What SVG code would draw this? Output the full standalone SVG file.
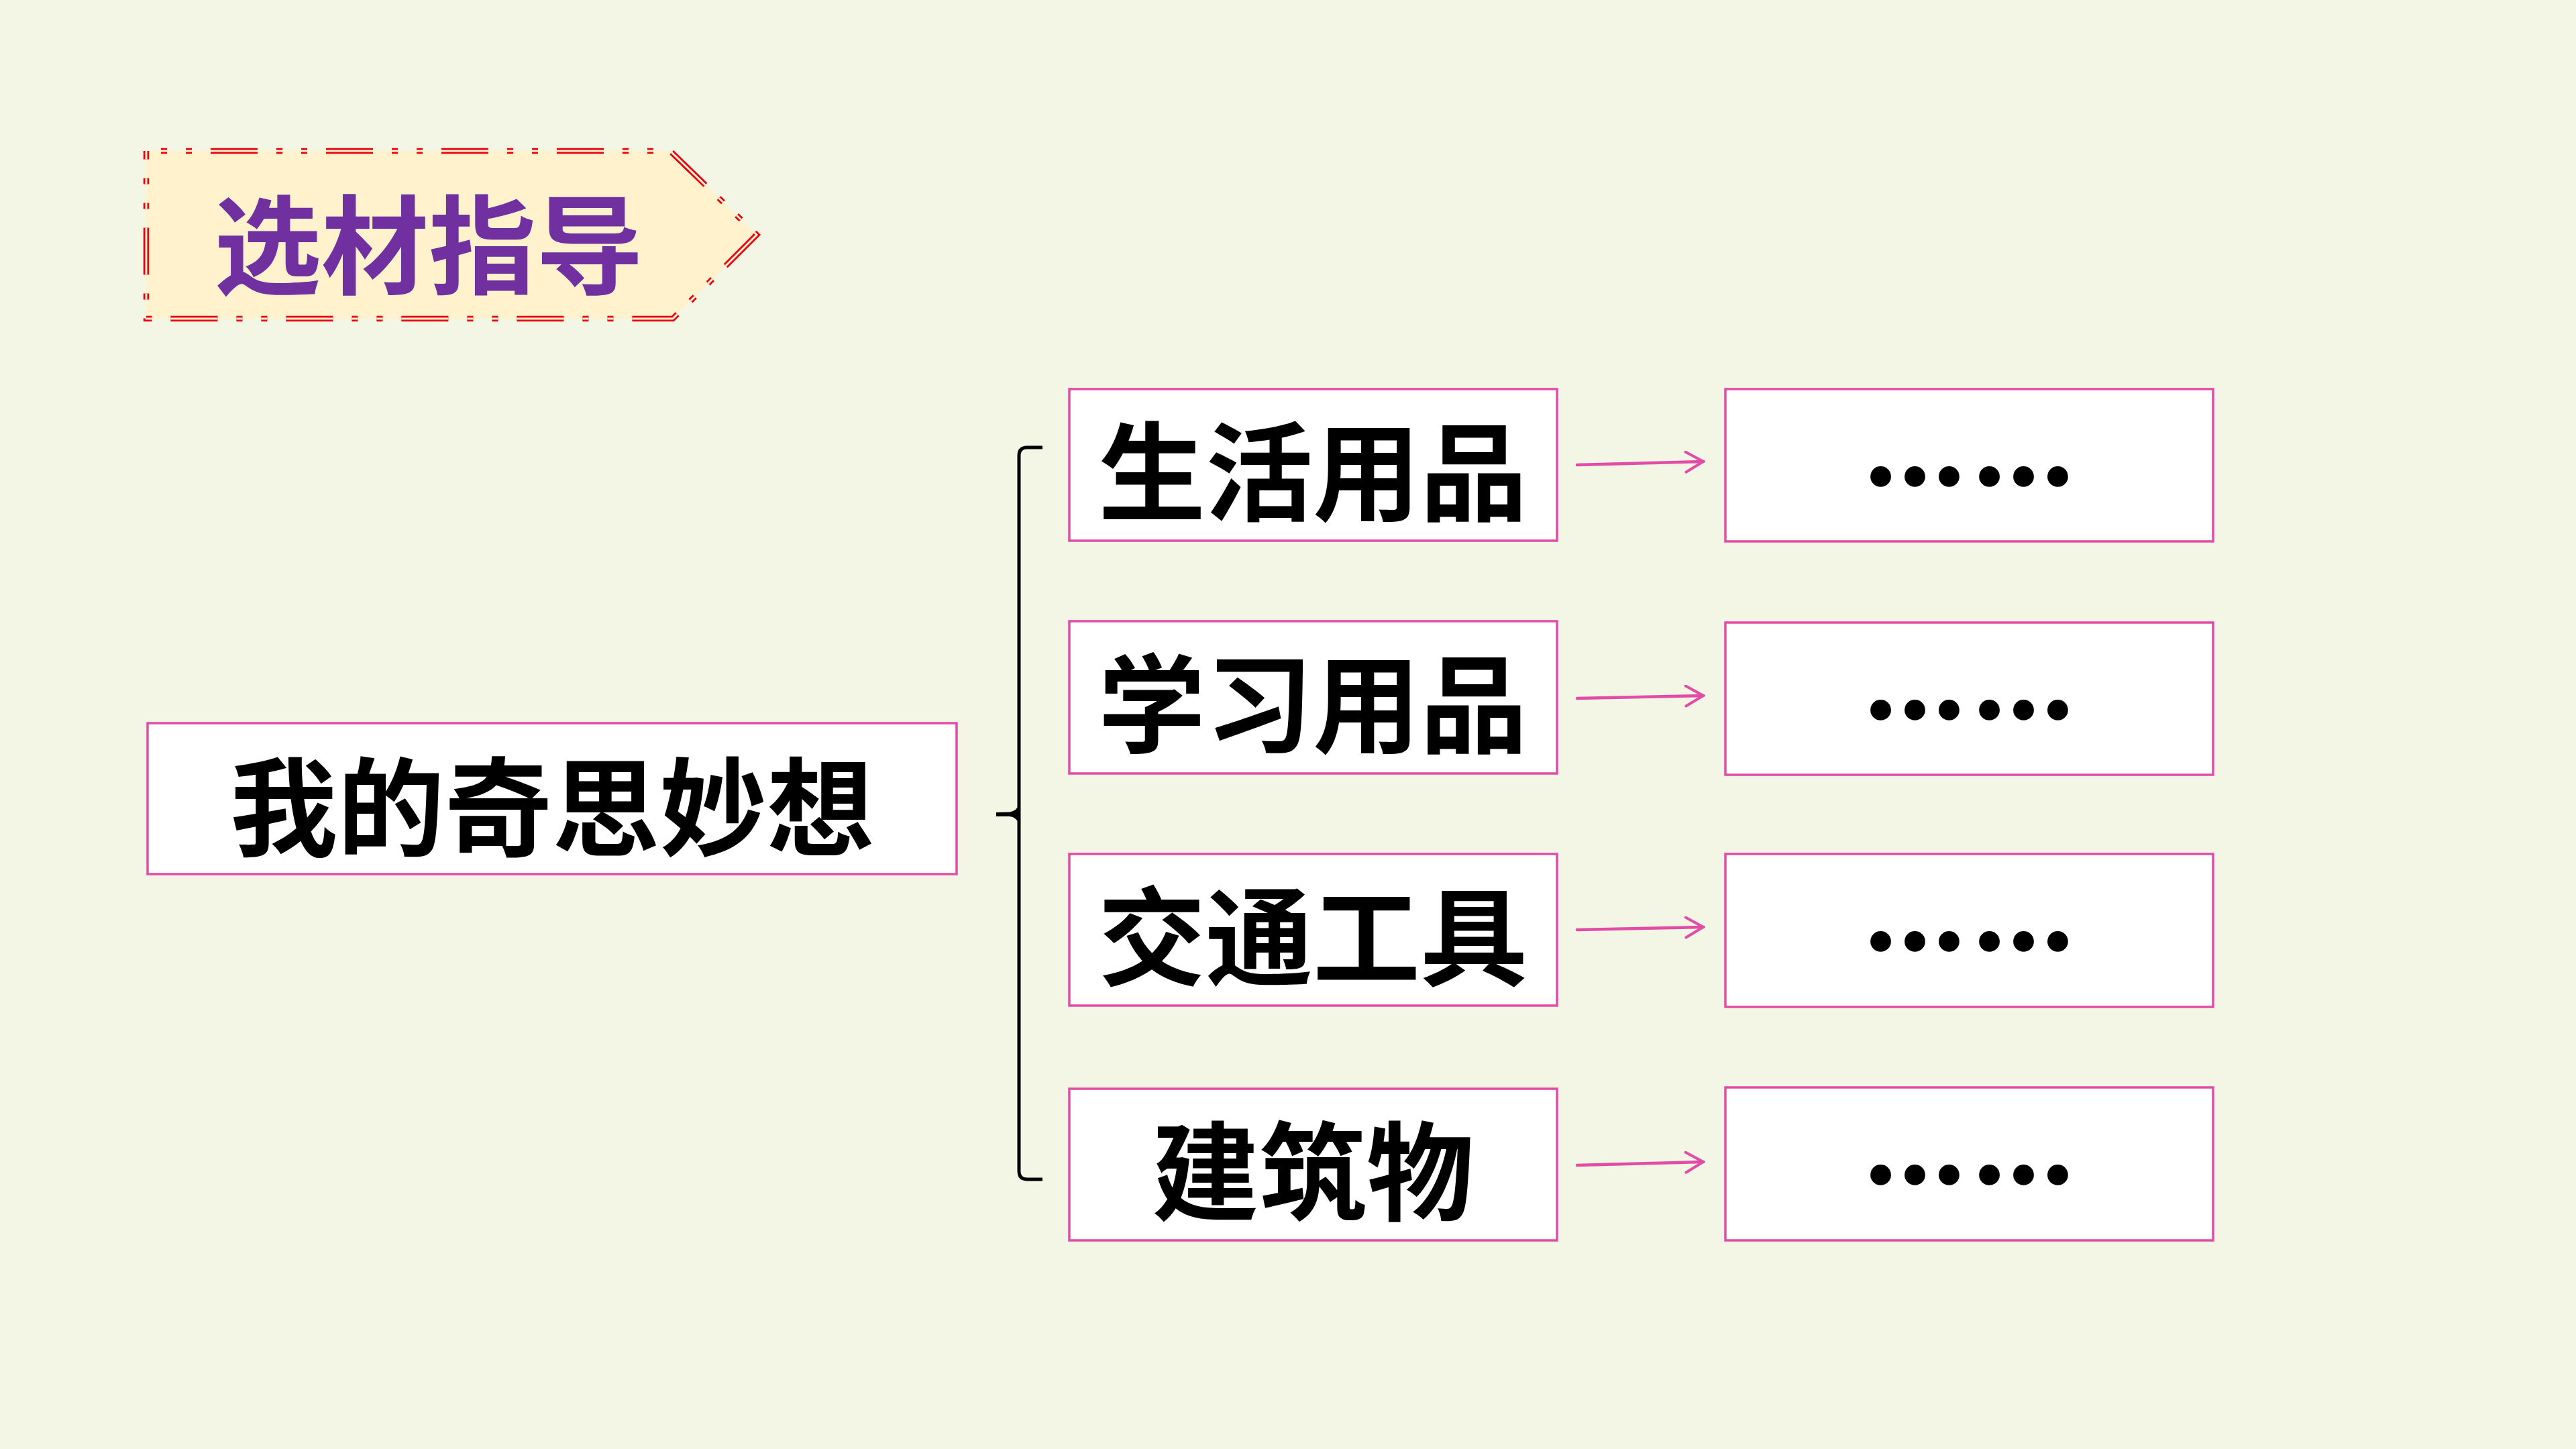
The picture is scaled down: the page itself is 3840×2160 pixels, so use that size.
<svg xmlns="http://www.w3.org/2000/svg" width="3840" height="2160" viewBox="0 0 3840 2160">
  <style>
    .bg { fill: #F3F5E5; }
    .box { fill: #FFFFFF; stroke: #E24CA6; stroke-width: 3.5; }
    .kai { font-family: "Noto Sans CJK SC", "Noto Sans CJK TC", sans-serif; font-weight: 700; font-size: 160px; fill: #000000; text-anchor: middle; }
    .dots { font-family: "Noto Sans CJK SC", sans-serif; font-weight: 700; font-size: 153px; letter-spacing: 9px; fill: #000000; stroke: #000000; stroke-width: 6; text-anchor: middle; }
    .title { font-family: "Noto Sans CJK SC", sans-serif; font-weight: 700; font-size: 160px; fill: #7030A0; text-anchor: middle; }
    .arrow { stroke: #E24CA6; stroke-width: 4.5; fill: none; stroke-linecap: round; }
    .brace { stroke: #000000; stroke-width: 5; fill: none; }
    .bannerRed { fill: none; stroke: #E60012; stroke-width: 8.5; stroke-dasharray: 70 28 9 28 9 28; stroke-dashoffset: 76; }
    .bannerGap { fill: none; stroke: #FFF2CC; stroke-width: 3; stroke-dasharray: 70 28 9 28 9 28; stroke-dashoffset: 76; }
  </style>
  <defs>
    <marker id="head" viewBox="0 0 32 34" refX="29" refY="17" markerWidth="32" markerHeight="34" markerUnits="userSpaceOnUse" orient="auto">
      <path d="M3,2 L29,17 L3,32" fill="none" stroke="#E24CA6" stroke-width="4" stroke-linecap="round"/>
    </marker>
  </defs>

  <rect class="bg" x="0" y="0" width="3840" height="2160"/>

  <g id="banner">
    <polygon points="218,225 999,225 1128,350 1003,475 218,475" fill="#FFF2CC"/>
    <polygon class="bannerRed" points="218,225 999,225 1128,350 1003,475 218,475"/>
    <polygon class="bannerGap" points="218,225 999,225 1128,350 1003,475 218,475"/>
    <text class="title" x="639" y="426">选材指导</text>
  </g>

  <g id="node-main">
    <rect class="box" x="220" y="1078" width="1206" height="225"/>
    <text class="kai" x="823" y="1264">我的奇思妙想</text>
  </g>

  <g id="node-daily">
    <rect class="box" x="1594" y="580" width="727" height="226"/>
    <text class="kai" x="1957" y="764">生活用品</text>
  </g>
  <g id="node-study">
    <rect class="box" x="1594" y="926" width="727" height="227"/>
    <text class="kai" x="1957" y="1110">学习用品</text>
  </g>
  <g id="node-traffic">
    <rect class="box" x="1594" y="1273" width="727" height="226"/>
    <text class="kai" x="1957" y="1457">交通工具</text>
  </g>
  <g id="node-building">
    <rect class="box" x="1594" y="1623" width="727" height="226"/>
    <text class="kai" x="1957" y="1807">建筑物</text>
  </g>

  <g id="node-more1">
    <rect class="box" x="2572" y="580" width="727" height="227"/>
    <text class="dots" x="2940" y="769">……</text>
  </g>
  <g id="node-more2">
    <rect class="box" x="2572" y="928" width="727" height="227"/>
    <text class="dots" x="2940" y="1117">……</text>
  </g>
  <g id="node-more3">
    <rect class="box" x="2572" y="1273" width="727" height="228"/>
    <text class="dots" x="2940" y="1462">……</text>
  </g>
  <g id="node-more4">
    <rect class="box" x="2572" y="1621" width="727" height="228"/>
    <text class="dots" x="2940" y="1810">……</text>
  </g>

  <g id="connectors">
    <path class="brace" d="M1554,667 L1531,667 Q1519,667 1519,679 L1519,1746 Q1519,1758 1531,1758 L1554,1758"/>
    <path d="M1485,1211 L1505,1210.5 Q1515,1209.5 1519,1199 L1519,1228 Q1515,1218 1505,1217 L1485,1217 Z" fill="#000000"/>
    <line class="arrow" x1="2351" y1="693" x2="2539" y2="688" marker-end="url(#head)"/>
    <line class="arrow" x1="2351" y1="1041" x2="2539" y2="1037" marker-end="url(#head)"/>
    <line class="arrow" x1="2351" y1="1386" x2="2539" y2="1382" marker-end="url(#head)"/>
    <line class="arrow" x1="2351" y1="1737" x2="2539" y2="1732" marker-end="url(#head)"/>
  </g>
</svg>
